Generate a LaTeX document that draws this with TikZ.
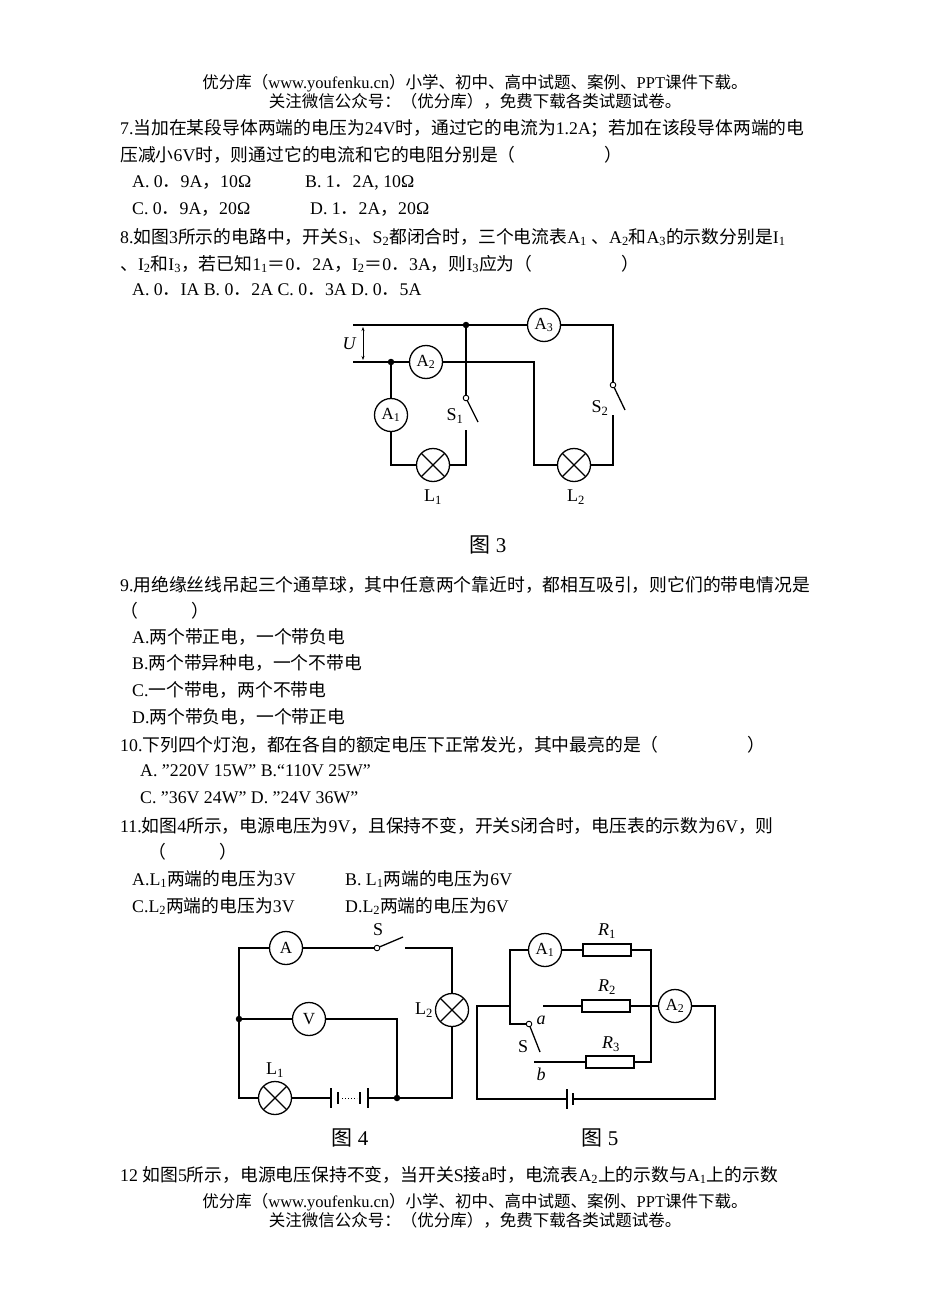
\documentclass[tikz,border=0pt]{standalone}
\usepackage{fontspec}
\setmainfont{Liberation Serif}
\newfontfamily\cjk{Noto Sans CJK SC}
\XeTeXinterchartokenstate=1
\newXeTeXintercharclass\cjkcls
\count255="3000 \loop\XeTeXcharclass\count255=\cjkcls \ifnum\count255<"303F \advance\count255 1 \repeat
\count255="4E00 \loop\XeTeXcharclass\count255=\cjkcls \ifnum\count255<"9FFF \advance\count255 1 \repeat
\count255="FF00 \loop\XeTeXcharclass\count255=\cjkcls \ifnum\count255<"FFEF \advance\count255 1 \repeat
\XeTeXinterchartoks 0 \cjkcls = {\begingroup\cjk}
\XeTeXinterchartoks 4095 \cjkcls = {\begingroup\cjk}
\XeTeXinterchartoks \cjkcls 0 = {\endgroup}
\XeTeXinterchartoks \cjkcls 4095 = {\endgroup}
\usetikzlibrary{arrows.meta}
\tikzset{
txt/.style={anchor=west, inner sep=0, font=\fontsize{17.8}{20}\selectfont},
head/.style={anchor=center, inner sep=0, font=\fontsize{16.5}{18}\selectfont},
meter/.style={circle, draw, line width=1.3pt, minimum size=33pt, inner sep=0, fill=white, font=\fontsize{17}{18}\selectfont},
lamp/.style={circle, draw, line width=1.3pt, minimum size=33pt, inner sep=0, fill=white,
  path picture={\draw[line width=1.3pt] (path picture bounding box.north west)--(path picture bounding box.south east)
  (path picture bounding box.north east)--(path picture bounding box.south west);}},
res/.style={rectangle, draw, line width=1.3pt, minimum width=48pt, minimum height=12pt, inner sep=0, fill=white},
lab/.style={inner sep=0, font=\fontsize{18}{20}\selectfont},
wire/.style={line width=1.3pt},
dot/.style={circle, fill, inner sep=0, minimum size=6.5pt},
}
\def\s#1{\textsubscript{#1}}
\begin{document}
\begin{tikzpicture}[x=1pt, y=-1pt]
\useasboundingbox (0,0) rectangle (950,1316);
% page text
\node[head] (h1) at (475,83) {优分库（www.youfenku.cn）小学、初中、高中试题、案例、PPT课件下载。};
\node[head] (h2) at (475,101) {关注微信公众号：（优分库），免费下载各类试题试卷。};
\node[txt] (q7a) at (120,128) {7.当加在某段导体两端的电压为24V时，通过它的电流为1.2A；若加在该段导体两端的电};
\node[txt] (q7b) at (120,155) {压减小6V时，则通过它的电流和它的电阻分别是（　　　　　）};
\node[txt] (q7A) at (132,183) {A. 0．9A，10Ω};
\node[txt] (q7B) at (305,183) {B. 1．2A, 10Ω};
\node[txt] (q7C) at (132,210) {C. 0．9A，20Ω};
\node[txt] (q7D) at (310,210) {D. 1．2A，20Ω};
\node[txt] (q8a) at (120,237) {8.如图3所示的电路中，开关S\s1、S\s2都闭合时，三个电流表A\s1 、A\s2和A\s3的示数分别是I\s1};
\node[txt] (q8b) at (120,264) {、I\s2和I\s3，若已知1\s1＝0．2A，I\s2＝0．3A，则I\s3应为（　　　　　）};
\node[txt] (q8o) at (132,290) {A. 0．IA B. 0．2A C. 0．3A D. 0．5A};
\node[txt] (q9a) at (120,585) {9.用绝缘丝线吊起三个通草球，其中任意两个靠近时，都相互吸引，则它们的带电情况是};
\node[txt] (q9b) at (120,611) {（　　　）};
\node[txt] (q9A) at (132,637) {A.两个带正电，一个带负电};
\node[txt] (q9B) at (132,663) {B.两个带异种电，一个不带电};
\node[txt] (q9C) at (132,690) {C.一个带电，两个不带电};
\node[txt] (q9D) at (132,717) {D.两个带负电，一个带正电};
\node[txt] (q10) at (120,745) {10.下列四个灯泡，都在各自的额定电压下正常发光，其中最亮的是（　　　　　）};
\node[txt] (q10a) at (140,771) {A. "220V 15W" B.“110V 25W"};
\node[txt] (q10b) at (140,798) {C. "36V 24W" D. "24V 36W"};
\node[txt] (q11a) at (120,826) {11.如图4所示，电源电压为9V，且保持不变，开关S闭合时，电压表的示数为6V，则};
\node[txt] (q11b) at (148,852) {（　　　）};
\node[txt] (q11A) at (132,879) {A.L\s1两端的电压为3V};
\node[txt] (q11B) at (345,879) {B. L\s1两端的电压为6V};
\node[txt] (q11C) at (132,906) {C.L\s2两端的电压为3V};
\node[txt] (q11D) at (345,906) {D.L\s2两端的电压为6V};
\node[txt] (q12) at (120,1175) {12 如图5所示，电源电压保持不变，当开关S接a时，电流表A\s2上的示数与A\s1上的示数};
\node[head] (f1) at (475,1202) {优分库（www.youfenku.cn）小学、初中、高中试题、案例、PPT课件下载。};
\node[head] (f2) at (475,1220) {关注微信公众号：（优分库），免费下载各类试题试卷。};

% figure 3
\coordinate (t0) at (353,325);
\coordinate (b0) at (353,362);
\node[dot] (j1) at (466,325) {};
\node[dot] (j2) at (391,362) {};
\node[meter] (A3) at (544,325) {A\s3};
\node[meter] (A2) at (426,362) {A\s2};
\node[meter] (A1) at (391,415) {A\s1};
\node[lamp] (L1) at (433,465) {};
\node[lamp] (L2) at (574,465) {};
\coordinate (s1p) at (466,398);
\coordinate (s1e) at (466,430);
\coordinate (s2p) at (613,385);
\coordinate (s2e) at (613,415);
\draw[wire] (t0) -- (j1) -- (A3) -- (613,325) -- (s2p);
\draw[wire] (b0) -- (j2) -- (A2) -- (534,362) -- (534,465) -- (L2) -- (613,465) -- (s2e);
\draw[wire] (j2) -- (A1) -- (391,465) -- (L1) -- (466,465) -- (s1e);
\draw[wire] (j1) -- (s1p);
\draw[wire] (s1p) -- (478,422) (s2p) -- (625,410);
\draw[fill=white, line width=0.9pt] (s1p) circle (2.8pt) (s2p) circle (2.8pt);
\draw[{Stealth[length=4pt]}-{Stealth[length=4pt]}, line width=0.9pt] (363,327) -- (363,360);
\node[lab, font=\fontsize{18}{20}\selectfont\itshape] (U) at (349,344) {U};
\node[lab] (lL1) at (433,497) {L\s1};
\node[lab] (lL2) at (576,497) {L\s2};
\node[lab] (lS1) at (455,416) {S\s1};
\node[lab] (lS2) at (600,408) {S\s2};
\node[lab, font=\fontsize{21}{23}\selectfont] (cap3) at (488,545) {图 3};

% figure 4
\node[meter] (A) at (286,948) {A};
\node[meter] (V) at (309,1019) {V};
\node[lamp] (L4a) at (275,1098) {};
\node[lamp] (L4b) at (452,1010) {};
\node[dot] (j3) at (239,1019) {};
\node[dot] (j4) at (397,1098) {};
\coordinate (sp) at (377,948);
\draw[wire] (sp) -- (A) -- (239,948) -- (j3) -- (239,1098) -- (L4a) -- (331,1098);
\draw[wire] (sp) -- (403,937);
\draw[wire] (405,948) -- (452,948) -- (L4b) -- (452,1098) -- (j4) -- (368,1098);
\draw[wire] (j3) -- (V) -- (397,1019) -- (j4);
\draw[wire] (331,1088) -- (331,1108) (338,1092) -- (338,1104) (360,1092) -- (360,1104) (368,1088) -- (368,1108);
\draw[line width=1pt, dotted] (342,1098) -- (357,1098);
\draw[fill=white, line width=0.9pt] (sp) circle (2.8pt);
\node[lab] (lS) at (378,930) {S};
\node[lab] (lL4a) at (275,1070) {L\s1};
\node[lab] (lL4b) at (424,1010) {L\s2};
\node[lab, font=\fontsize{21}{23}\selectfont] (cap4) at (350,1138) {图 4};

% figure 5
\node[meter] (A51) at (545,950) {A\s1};
\node[meter] (A52) at (675,1006) {A\s2};
\node[res] (R1) at (607,950) {};
\node[res] (R2) at (606,1006) {};
\node[res] (R3) at (610,1062) {};
\coordinate (sa) at (529,1024);
\draw[wire] (R1) -- (A51) -- (510,950) -- (510,1024) -- (sa);
\draw[wire] (R1) -- (651,950) -- (651,1062) -- (R3) -- (534,1062);
\draw[wire] (543,1006) -- (R2) -- (A52) -- (715,1006) -- (715,1099) -- (573,1099);
\draw[wire] (510,1006) -- (477,1006) -- (477,1099) -- (567,1099);
\draw[wire] (567,1089) -- (567,1109);
\draw[wire] (573,1093) -- (573,1105);
\draw[wire] (sa) -- (540,1052);
\draw[fill=white, line width=0.9pt] (sa) circle (2.8pt);
\node[lab, font=\fontsize{18}{20}\selectfont\itshape] (lR1) at (607,931) {R\s{\upshape1}};
\node[lab, font=\fontsize{18}{20}\selectfont\itshape] (lR2) at (607,987) {R\s{\upshape2}};
\node[lab, font=\fontsize{18}{20}\selectfont\itshape] (lR3) at (611,1044) {R\s{\upshape3}};
\node[lab, font=\fontsize{18}{20}\selectfont\itshape] (la) at (541,1020) {a};
\node[lab, font=\fontsize{18}{20}\selectfont\itshape] (lb) at (541,1074) {b};
\node[lab] (lS5) at (523,1047) {S};
\node[lab, font=\fontsize{21}{23}\selectfont] (cap5) at (600,1138) {图 5};
\end{tikzpicture}
\end{document}
